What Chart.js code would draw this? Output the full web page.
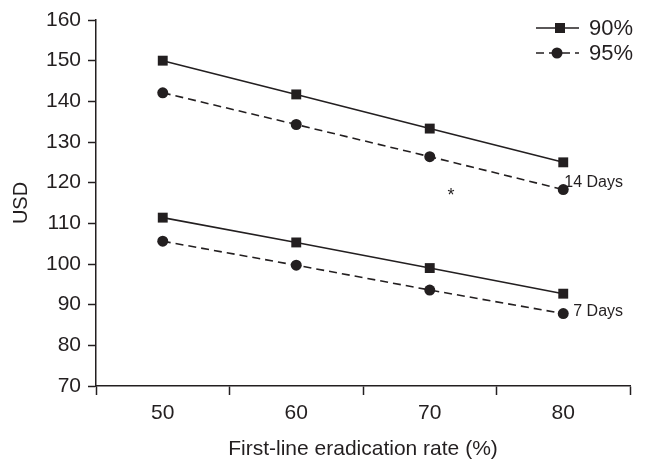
<!DOCTYPE html>
<html>
<head>
<meta charset="utf-8">
<script src="https://cdn.jsdelivr.net/npm/chart.js@4/dist/chart.umd.min.js"></script>
<style>
  html, body { margin: 0; padding: 0; background: #fff; }
  #wrap { width: 646px; height: 469px; }
</style>
</head>
<body>
<div id="wrap"><canvas id="costChart"></canvas></div>
<script>
const rates = ["50", "60", "70", "80"];
const yTicks = [70, 80, 90, 100, 110, 120, 130, 140, 150, 160];

const days14_90 = [150, 141.7, 133.3, 125];
const days14_95 = [142.1, 134.3, 126.4, 118.3];
const days7_90 = [111.4, 105.3, 99, 92.7];
const days7_95 = [105.6, 99.7, 93.6, 87.8];

const ink = "#231f20";
const font = "'Liberation Sans', Arial, sans-serif";

function series(label, data, dashed) {
  return {
    label: label,
    data: data,
    borderColor: ink,
    backgroundColor: ink,
    borderWidth: 1.6,
    borderDash: dashed ? [8, 5] : [],
    pointStyle: dashed ? "circle" : "rect",
    pointRadius: dashed ? 5.5 : 7,
    pointBackgroundColor: ink,
    pointBorderColor: ink,
    pointBorderWidth: 0,
    tension: 0
  };
}

const notes = {
  id: "notes",
  afterDraw(chart) {
    const ctx = chart.ctx;
    const x = chart.scales.x;
    const y = chart.scales.y;
    ctx.save();
    ctx.fillStyle = ink;

    // legend
    ctx.font = "22px " + font;
    ctx.textBaseline = "middle";
    const items = [chart.data.datasets[0], chart.data.datasets[1]];
    items.forEach((d, i) => {
      const ly = 28 + i * 25;
      ctx.strokeStyle = ink;
      ctx.lineWidth = 1.6;
      ctx.setLineDash(d.borderDash);
      ctx.beginPath();
      ctx.moveTo(536, ly);
      ctx.lineTo(579, ly);
      ctx.stroke();
      ctx.setLineDash([]);
      if (d.pointStyle === "rect") {
        ctx.fillRect(555, ly - 5, 10, 10);
      } else {
        ctx.beginPath();
        ctx.arc(557, ly, 5.5, 0, Math.PI * 2);
        ctx.fill();
      }
      ctx.textAlign = "left";
      ctx.fillText(d.label, 589, ly + 1);
    });

    // group labels
    ctx.font = "16px " + font;
    ctx.textAlign = "left";
    const last = rates.length - 1;
    ctx.fillText("14 Days", x.getPixelForValue(last) + 1, y.getPixelForValue(days14_95[last]) - 7);
    ctx.fillText("7 Days", x.getPixelForValue(last) + 10, y.getPixelForValue(days7_95[last]) - 2);

    ctx.font = "18px " + font;
    ctx.textAlign = "center";
    const step = x.getPixelForValue(3) - x.getPixelForValue(2);
    ctx.fillText("*", x.getPixelForValue(2) + step * 0.16, y.getPixelForValue(117) + 1);
    ctx.restore();
  }
};

new Chart(document.getElementById("costChart"), {
  type: "line",
  data: {
    labels: rates,
    datasets: [
      series("90%", days14_90, false),
      series("95%", days14_95, true),
      series("90%", days7_90, false),
      series("95%", days7_95, true)
    ]
  },
  options: {
    responsive: true,
    maintainAspectRatio: false,
    animation: false,
    layout: { padding: { top: 20, right: 16, left: 0, bottom: 0 } },
    plugins: {
      legend: { display: false },
      tooltip: { enabled: false }
    },
    scales: {
      x: {
        offset: true,
        afterFit: s => { s.height = 83; },
        grid: { offset: true, drawOnChartArea: false, drawTicks: true, tickLength: 9, color: ink, tickWidth: 1.5 },
        border: { color: ink, width: 1.5 },
        ticks: { color: ink, font: { family: font, size: 21 }, padding: 6 },
        title: { display: true, text: "First-line eradication rate (%)", color: ink, font: { family: font, size: 21 }, padding: { top: 2, bottom: 7 } }
      },
      y: {
        min: 70,
        max: 160,
        afterFit: s => { s.width = 96; },
        afterBuildTicks: s => { s.ticks = yTicks.map(v => ({ value: v })); },
        grid: { drawOnChartArea: false, drawTicks: true, tickLength: 8, color: ink, tickWidth: 1.5 },
        border: { color: ink, width: 1.5 },
        ticks: { color: ink, font: { family: font, size: 21 }, padding: 7 },
        title: { display: true, text: "USD", color: ink, font: { family: font, size: 20 }, padding: { top: 9, bottom: 0 } }
      }
    }
  },
  plugins: [notes]
});
</script>
</body>
</html>
